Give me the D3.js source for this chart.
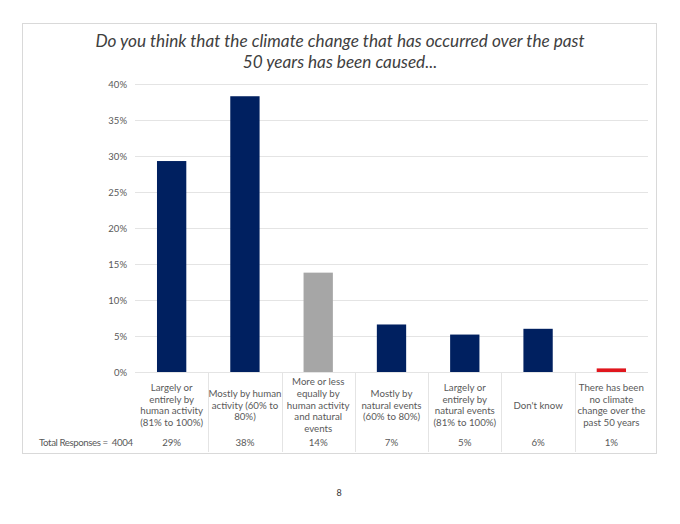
<!DOCTYPE html>
<html>
<head>
<meta charset="utf-8">
<script src="https://cdn.jsdelivr.net/npm/d3@7"></script>
<style>
  html, body { margin: 0; padding: 0; background: #fff; }
  svg { display: block; }
</style>
</head>
<body>
<script>
const titleLines = ["Do you think that the climate change that has occurred over the past", "50 years has been caused..."];
const categories = [
  ["Largely or", "entirely by", "human activity", "(81% to 100%)"],
  ["Mostly by human", "activity (60% to", "80%)"],
  ["More or less", "equally by", "human activity", "and natural", "events"],
  ["Mostly by", "natural events", "(60% to 80%)"],
  ["Largely or", "entirely by", "natural events", "(81% to 100%)"],
  ["Don't know"],
  ["There has been", "no climate", "change over the", "past 50 years"]
];
const values = [29.3, 38.3, 13.8, 6.6, 5.2, 6.0, 0.5];
const tableLabels = ["29%", "38%", "14%", "7%", "5%", "6%", "1%"];
const barColors = ["#002060", "#002060", "#A6A6A6", "#002060", "#002060", "#002060", "#E0161D"];
const yTicks = [0, 5, 10, 15, 20, 25, 30, 35, 40];
const totalLabel = "Total Responses = \u00A04004";
const pageNumber = "8";

const W = 680, H = 524;
const font = "Lato, 'Open Sans', sans-serif";
const svg = d3.select("body").append("svg").attr("width", W).attr("height", H);

// frame
svg.append("rect").attr("x", 22.5).attr("y", 23.5).attr("width", 634).attr("height", 430)
  .attr("fill", "#fff").attr("stroke", "#D9D9D9").attr("stroke-width", 1);

// title
svg.append("text").attr("x", 340).attr("y", 47).attr("text-anchor", "middle")
  .attr("font-family", font).attr("font-style", "italic").attr("font-size", 17.2).attr("fill", "#404040")
  .selectAll("tspan").data(titleLines).join("tspan")
  .attr("x", 340).attr("dy", (d, i) => i === 0 ? 0 : 20.5).text(d => d);

const x = d3.scaleBand().domain(d3.range(categories.length)).range([135, 648]).paddingInner(0.6).paddingOuter(0.3);
const y = d3.scaleLinear().domain([0, 40]).range([372, 84]);

// gridlines
svg.append("g").selectAll("line").data(yTicks).join("line")
  .attr("x1", 135).attr("x2", 648)
  .attr("y1", d => Math.round(y(d)) + 0.5).attr("y2", d => Math.round(y(d)) + 0.5)
  .attr("stroke", "#E4E4E4").attr("stroke-width", 1);

// y axis labels
const yAxis = d3.axisLeft(y).tickValues(yTicks).tickFormat(d => d + "%").tickSize(0).tickPadding(8);
const gy = svg.append("g").attr("transform", "translate(135,0)").call(yAxis);
gy.select(".domain").remove();
gy.selectAll("text").attr("font-family", font).attr("font-size", 9.5).attr("fill", "#595959");

// bars
svg.append("g").selectAll("rect").data(values).join("rect")
  .attr("x", (d, i) => x(i)).attr("width", x.bandwidth())
  .attr("y", d => y(d)).attr("height", d => y(0) - y(d))
  .attr("fill", (d, i) => barColors[i]);

// table dividers
const bounds = d3.range(1, categories.length).map(i => 135 + i * (513 / categories.length));
svg.append("g").selectAll("line").data(bounds).join("line")
  .attr("x1", d => Math.round(d) + 0.5).attr("x2", d => Math.round(d) + 0.5)
  .attr("y1", 372).attr("y2", 452)
  .attr("stroke", "#E4E4E4").attr("stroke-width", 1);

// category labels
const centers = d3.range(categories.length).map(i => x(i) + x.bandwidth() / 2);
const lh = 11.8;
const catG = svg.append("g").attr("font-family", font).attr("font-size", 9.7).attr("fill", "#595959").attr("text-anchor", "middle");
categories.forEach((lines, i) => {
  const mid = 405;
  const startY = mid - (lines.length - 1) * lh / 2 + 3.5;
  const t = catG.append("text");
  lines.forEach((ln, j) => {
    t.append("tspan").attr("x", centers[i]).attr("y", startY + j * lh).text(ln);
  });
});

// table values
svg.append("g").attr("font-family", font).attr("font-size", 9.7).attr("fill", "#595959").attr("text-anchor", "middle")
  .selectAll("text").data(tableLabels).join("text")
  .attr("x", (d, i) => centers[i]).attr("y", 446).text(d => d);

svg.append("text").attr("x", 39).attr("y", 446).attr("font-family", font).attr("font-size", 9.7)
  .attr("textLength", 94).attr("lengthAdjust", "spacing")
  .attr("fill", "#595959").text(totalLabel);

// page number
svg.append("text").attr("x", 339).attr("y", 496).attr("text-anchor", "middle")
  .attr("font-family", font).attr("font-size", 9).attr("fill", "#333").text(pageNumber);
</script>
</body>
</html>
